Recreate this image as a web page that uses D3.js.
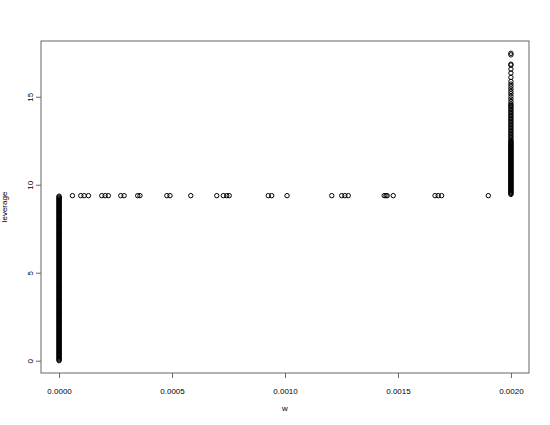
<!DOCTYPE html>
<html>
<head>
<meta charset="utf-8">
<script src="https://cdn.jsdelivr.net/npm/d3@7"></script>
<style>
  body { margin: 0; background: #fff; }
  svg text { font-family: "Liberation Sans", Arial, Helvetica, sans-serif; }
</style>
</head>
<body>
<div id="chart"></div>
<script>
// 数据：w = 0 一列（密集）
var levAtZero = [
  0.00,0.05,0.10,0.15,0.20,0.25,0.30,0.35,0.40,0.45,
  0.50,0.55,0.60,0.65,0.70,0.75,0.80,0.85,0.90,0.95,
  1.00,1.05,1.10,1.15,1.20,1.25,1.30,1.35,1.40,1.45,
  1.50,1.55,1.60,1.65,1.70,1.75,1.80,1.85,1.90,1.95,
  2.00,2.05,2.10,2.15,2.20,2.25,2.30,2.35,2.40,2.45,
  2.50,2.55,2.60,2.65,2.70,2.75,2.80,2.85,2.90,2.95,
  3.00,3.05,3.10,3.15,3.20,3.25,3.30,3.35,3.40,3.45,
  3.50,3.55,3.60,3.65,3.70,3.75,3.80,3.85,3.90,3.95,
  4.00,4.05,4.10,4.15,4.20,4.25,4.30,4.35,4.40,4.45,
  4.50,4.55,4.60,4.65,4.70,4.75,4.80,4.85,4.90,4.95,
  5.00,5.05,5.10,5.15,5.20,5.25,5.30,5.35,5.40,5.45,
  5.50,5.55,5.60,5.65,5.70,5.75,5.80,5.85,5.90,5.95,
  6.00,6.05,6.10,6.15,6.20,6.25,6.30,6.35,6.40,6.45,
  6.50,6.55,6.60,6.65,6.70,6.75,6.80,6.85,6.90,6.95,
  7.00,7.05,7.10,7.15,7.20,7.25,7.30,7.35,7.40,7.45,
  7.50,7.55,7.60,7.65,7.70,7.75,7.80,7.85,7.90,7.95,
  8.00,8.05,8.10,8.15,8.20,8.25,8.30,8.35,8.40,8.45,
  8.50,8.55,8.60,8.65,8.70,8.75,8.80,8.85,8.90,8.95,
  9.00,9.05,9.10,9.15,9.20,9.25,9.30,9.35
];

// 数据：w = 0.002 一列
var levAtMax = [
  9.45,9.50,9.55,9.60,9.65,9.70,9.75,9.80,9.85,9.90,
  9.95,10.00,10.05,10.10,10.15,10.20,10.25,10.30,10.35,10.40,
  10.45,10.50,10.55,10.60,10.65,10.70,10.75,10.80,10.85,10.90,
  10.95,11.00,11.05,11.10,11.15,11.20,11.25,11.30,11.35,11.40,
  11.45,11.50,11.55,11.60,11.65,11.70,11.75,11.80,11.85,11.90,
  11.95,12.00,12.05,12.10,12.15,12.20,12.25,12.30,12.35,12.40,
  12.45,12.50,
  12.58,12.67,12.75,12.84,12.92,13.01,13.09,13.18,13.26,13.35,
  13.43,13.52,13.60,13.69,13.77,13.86,13.94,14.03,14.11,14.20,
  14.28,14.37,14.45,14.53,14.60,
  14.73,14.87,15.02,15.17,15.30,15.44,15.59,15.72,15.87,16.10,
  16.35,16.57,16.80,16.85,17.38,17.47
];

// 数据：中间横向的点（w 值），leverage 约 9.38
var midW = [
  0.000059,0.000096,0.000111,0.000130,0.000189,0.000204,0.000218,0.000273,0.000288,0.000348,
  0.000358,0.000477,0.000491,0.000583,0.000698,0.000727,0.000742,0.000753,0.000926,0.000941,
  0.001009,0.001207,0.001251,0.001265,0.001280,0.001439,0.001447,0.001452,0.001479,0.001664,
  0.001678,0.001693,0.001900
];
var midLev = 9.38;

var xTicks = [0, 0.0005, 0.0010, 0.0015, 0.0020];
var yTicks = [0, 5, 10, 15];

var W = 550, H = 425;
var mLeft = 41, mRight = 529, mTop = 41, mBottom = 373;

var xMin = 0, xMax = 0.002, yMin = 0, yMax = 17.47;
var xPad = (xMax - xMin) * 0.04, yPad = (yMax - yMin) * 0.04;

var x = d3.scaleLinear().domain([xMin - xPad, xMax + xPad]).range([mLeft, mRight]);
var y = d3.scaleLinear().domain([yMin - yPad, yMax + yPad]).range([mBottom, mTop]);

var svg = d3.select("#chart")
    .append("svg")
    .attr("width", W)
    .attr("height", H);

// 拼成点集
var points = [];
levAtZero.forEach(function (v) { points.push([0, v]); });
midW.forEach(function (w) { points.push([w, midLev]); });
levAtMax.forEach(function (v) { points.push([0.002, v]); });

svg.append("g")
    .selectAll("circle")
    .data(points)
    .enter()
    .append("circle")
    .attr("cx", function (d) { return x(d[0]); })
    .attr("cy", function (d) { return y(d[1]); })
    .attr("r", 2.2)
    .attr("fill", "none")
    .attr("stroke", "#000")
    .attr("stroke-width", 1);

// 边框
svg.append("rect")
    .attr("x", mLeft)
    .attr("y", mTop)
    .attr("width", mRight - mLeft)
    .attr("height", mBottom - mTop)
    .attr("fill", "none")
    .attr("stroke", "#666")
    .attr("stroke-width", 1);

// x 轴
var xAxis = svg.append("g")
    .attr("transform", "translate(0," + mBottom + ")")
    .call(d3.axisBottom(x).tickValues(xTicks).tickFormat(d3.format(".4f")).tickSize(5).tickPadding(10));
xAxis.select(".domain").remove();
xAxis.selectAll("line").attr("stroke", "#666");
xAxis.selectAll("text").attr("font-size", 8).attr("fill", "#000")
    .attr("font-family", "Liberation Sans, Arial, sans-serif");

// y 轴
var yAxis = svg.append("g")
    .attr("transform", "translate(" + mLeft + ",0)")
    .call(d3.axisLeft(y).tickValues(yTicks).tickSize(5));
yAxis.select(".domain").remove();
yAxis.selectAll("line").attr("stroke", "#666");
yAxis.selectAll("text").remove();
yAxis.selectAll(".tick")
    .append("text")
    .attr("transform", "translate(-8,0) rotate(-90)")
    .attr("text-anchor", "middle")
    .attr("font-size", 8)
    .attr("fill", "#000")
    .attr("font-family", "Liberation Sans, Arial, sans-serif")
    .text(function (d) { return d; });

// 轴标题
svg.append("text")
    .attr("x", (mLeft + mRight) / 2)
    .attr("y", 411)
    .attr("text-anchor", "middle")
    .attr("font-size", 8)
    .attr("fill", "#000")
    .text("w");

svg.append("text")
    .attr("transform", "translate(7," + ((mTop + mBottom) / 2) + ") rotate(-90)")
    .attr("text-anchor", "middle")
    .attr("font-size", 8)
    .attr("fill", "#000")
    .text("leverage");
</script>
</body>
</html>
